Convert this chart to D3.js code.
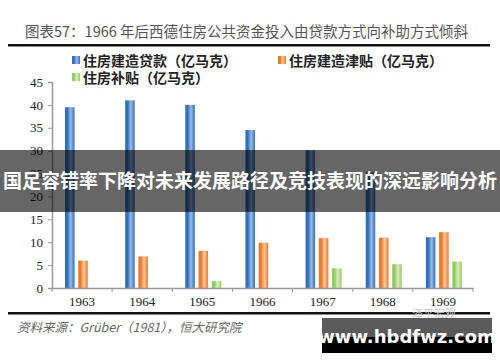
<!DOCTYPE html>
<html>
<head>
<meta charset="utf-8">
<script src="https://cdn.jsdelivr.net/npm/d3@7"></script>
<style>
  body { margin: 0; background: #fff; }
  svg { display: block; }
</style>
</head>
<body>
<div class="graph"></div>
<script>
// data
var years = ["1963", "1964", "1965", "1966", "1967", "1968", "1969"];
var loans = [39.5, 41.0, 40.0, 34.5, 30.1, 25.4, 11.1];
var allowances = [6.0, 6.9, 8.1, 9.9, 10.9, 11.0, 12.2];
var subsidies = [0, 0, 1.5, 0, 4.3, 5.2, 5.8];
var seriesNames = ["住房建造贷款（亿马克）", "住房建造津贴（亿马克）", "住房补贴（亿马克）"];
var yTicks = [0, 5, 10, 15, 20, 25, 30, 35, 40, 45];

var W = 500, H = 362;
var margin = {top: 82, left: 52, right: 27, bottom: 74};
var width = W - margin.left - margin.right,
    height = H - margin.top - margin.bottom;

var svg = d3.select(".graph").append("svg")
    .attr("width", W)
    .attr("height", H);

// gradients for the cylinder-ish bars
var colors = [
  {id: "gBlue", edge: "#2f6fbd", mid: "#9dbbe2"},
  {id: "gOrange", edge: "#ea7a2c", mid: "#fbc79c"},
  {id: "gGreen", edge: "#93cc5c", mid: "#d9ecc4"}
];
var defs = svg.append("defs");
colors.forEach(function(c) {
  var g = defs.append("linearGradient").attr("id", c.id)
      .attr("x1", "0%").attr("x2", "100%").attr("y1", "0%").attr("y2", "0%");
  g.append("stop").attr("offset", "0%").attr("stop-color", c.edge);
  g.append("stop").attr("offset", "25%").attr("stop-color", c.edge);
  g.append("stop").attr("offset", "60%").attr("stop-color", c.mid);
  g.append("stop").attr("offset", "100%").attr("stop-color", c.edge);
});

// title + rules
svg.append("text")
    .attr("x", 25).attr("y", 37)
    .style("font-family", "'Noto Sans CJK SC', 'Liberation Serif', serif")
    .style("font-size", "14.5px")
    .style("fill", "#555")
    .text("图表57：1966 年后西德住房公共资金投入由贷款方式向补助方式倾斜");
svg.append("rect").attr("x", 8).attr("y", 44).attr("width", 482).attr("height", 2.5).attr("fill", "#111");
svg.append("rect").attr("x", 8).attr("y", 312).attr("width", 482).attr("height", 2.5).attr("fill", "#111");

// legend
var legendPos = [[72, 61], [278, 61], [72, 78]];
seriesNames.forEach(function(name, i) {
  var lg = svg.append("g").attr("transform", "translate(" + legendPos[i][0] + "," + legendPos[i][1] + ")");
  lg.append("rect").attr("x", 0).attr("y", -5).attr("width", 8).attr("height", 8)
      .attr("fill", "url(#" + colors[i].id + ")");
  lg.append("text").attr("x", 11).attr("y", 4.5)
      .style("font-family", "'Noto Sans CJK SC', sans-serif")
      .style("font-size", "14px")
      .style("font-weight", "bold")
      .style("fill", "#222")
      .text(name);
});

var chart = svg.append("g")
    .attr("transform", "translate(" + margin.left + "," + margin.top + ")");

var x = d3.scaleBand().domain(years).range([0, width]);
var y = d3.scaleLinear().domain([0, 45]).range([height, 0]);
var xSub = d3.scaleBand().domain([0, 1, 2]).range([13, 49]).paddingInner(0.28);

var series = [loans, allowances, subsidies];
series.forEach(function(vals, si) {
  chart.selectAll(".bar" + si)
      .data(vals.map(function(v, i) { return {year: years[i], value: v}; }))
      .enter().append("rect")
      .attr("class", "bar" + si)
      .attr("x", function(d) { return x(d.year) + xSub(si); })
      .attr("width", xSub.bandwidth())
      .attr("y", function(d) { return y(d.value); })
      .attr("height", function(d) { return height - y(d.value); })
      .attr("fill", "url(#" + colors[si].id + ")")
      .style("display", function(d) { return d.value > 0 ? null : "none"; });
});

// axes
var yAxis = chart.append("g")
    .call(d3.axisLeft(y).tickValues(yTicks).tickSize(4).tickPadding(5));
var xAxis = chart.append("g")
    .attr("transform", "translate(0," + height + ")")
    .call(d3.axisBottom(x).tickSize(0).tickPadding(9));
// tick marks at the category boundaries
xAxis.selectAll(".bound")
    .data(years.concat(["end"]))
    .enter().append("line")
    .attr("x1", function(d, i) { return i * x.step(); })
    .attr("x2", function(d, i) { return i * x.step(); })
    .attr("y1", 0).attr("y2", 4)
    .attr("stroke", "#999");

[yAxis, xAxis].forEach(function(a) {
  a.select(".domain").attr("stroke", "#999").attr("stroke-width", 1.5);
  a.selectAll(".tick line").attr("stroke", "#999");
  a.selectAll("text")
      .style("font-family", "'Liberation Serif', serif")
      .style("font-size", "13px")
      .style("fill", "#222");
});

// source line
svg.append("text")
    .attr("x", 17).attr("y", 332)
    .style("font-family", "'Noto Sans CJK SC', sans-serif")
    .style("font-size", "12.5px")
    .style("font-style", "italic")
    .style("fill", "#666")
    .text("资料来源：Grüber（1981），恒大研究院");

// faint logo watermark
svg.append("text")
    .attr("x", 412).attr("y", 318)
    .style("font-family", "'Noto Sans CJK SC', sans-serif")
    .style("font-size", "11px")
    .style("fill", "#ccc")
    .text("泽平宏观");

// overlay band
svg.append("rect").attr("x", 0).attr("y", 150).attr("width", W).attr("height", 62)
    .attr("fill", "#000").attr("fill-opacity", 0.6);
svg.append("text")
    .attr("x", W / 2).attr("y", 188)
    .attr("text-anchor", "middle")
    .style("font-family", "'Noto Sans CJK SC', sans-serif")
    .style("font-size", "19px")
    .style("font-weight", "bold")
    .style("fill", "#fff")
    .text("国足容错率下降对未来发展路径及竞技表现的深远影响分析");

// site box
svg.append("rect").attr("x", 322).attr("y", 318).attr("width", 170).attr("height", 35).attr("fill", "#000");
svg.append("rect").attr("x", 322).attr("y", 318).attr("width", 170).attr("height", 19).attr("fill", "#5a5a5a");
svg.append("text")
    .attr("x", 407).attr("y", 343)
    .attr("text-anchor", "middle")
    .style("font-family", "'DejaVu Sans', sans-serif")
    .style("font-size", "18px")
    .style("font-weight", "bold")
    .style("fill", "#fff")
    .text("www.hbdfwz.com");
</script>
</body>
</html>
